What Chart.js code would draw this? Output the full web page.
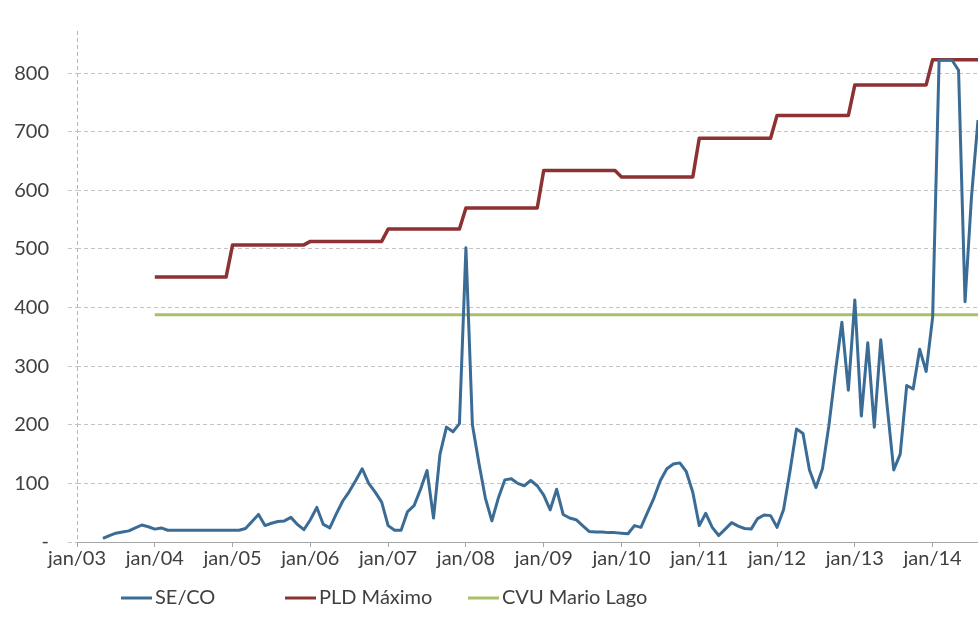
<!DOCTYPE html>
<html>
<head>
<meta charset="utf-8">
<script src="https://cdn.jsdelivr.net/npm/chart.js@4/dist/chart.umd.min.js"></script>
<style>
  html, body { margin: 0; padding: 0; background: #ffffff; overflow: hidden; }
  #wrap { width: 978px; height: 637px; }
</style>
</head>
<body>
<div id="wrap"><canvas id="chart" width="978" height="637"></canvas></div>
<script>
// Year tick labels, one per January (month index 0 = jan/03)
const yearTicks = ['jan/03', 'jan/04', 'jan/05', 'jan/06', 'jan/07', 'jan/08',
                   'jan/09', 'jan/10', 'jan/11', 'jan/12', 'jan/13', 'jan/14'];

// PLD SE/CO monthly average (R$/MWh), month index 0 = jan/03
const seCo = [
  null, null, null, null, 6, 11, 15, 17, 19, 24, 29, 26,          // 2003
  22, 24, 20, 20, 20, 20, 20, 20, 20, 20, 20, 20,                 // 2004
  20, 20, 23, 35, 47, 28, 32, 35, 36, 42, 30, 21,                 // 2005
  38, 59, 30, 24, 48, 70, 86, 105, 125, 100, 85, 68,              // 2006
  28, 20, 20, 52, 62, 90, 122, 41, 150, 196, 188, 202,            // 2007
  502, 200, 135, 75, 36, 75, 106, 108, 100, 96, 105, 96,          // 2008
  80, 55, 90, 47, 41, 38, 28, 18, 17, 17, 16, 16,                 // 2009
  15, 14, 28, 25, 50, 75, 105, 125, 133, 135, 120, 85,            // 2010
  28, 49, 25, 11, 22, 33, 27, 23, 22, 40, 46, 45,                 // 2011
  25, 55, 121, 193, 185, 123, 93, 125, 199, 290, 375, 259,        // 2012
  413, 215, 340, 196, 345, 230, 123, 150, 267, 261, 329, 291,     // 2013
  383, 822, 822, 822, 805, 410, 590, 720                          // 2014
];

// PLD ceiling per year (R$/MWh), 2004 to 2014
const pldYears = [2004, 2005, 2006, 2007, 2008, 2009, 2010, 2011, 2012, 2013, 2014];
const pldMax   = [452, 507, 513, 534, 570, 634, 623, 689, 728, 780, 823];

// Variable unit cost of the Mario Lago plant (R$/MWh)
const cvuMarioLago = 388;
const cvuStartMonth = 12;

const lastMonth = seCo.length - 1;

// Build {x, y} points on the month axis
const seCoPoints = seCo.map((v, i) => ({ x: i, y: v }));
const pldPoints = [];
pldYears.forEach((yr, k) => {
  const start = (yr - 2003) * 12;
  for (let m = start; m < start + 12 && m <= lastMonth; m++) {
    pldPoints.push({ x: m, y: pldMax[k] });
  }
});
const cvuPoints = [];
for (let m = cvuStartMonth; m <= lastMonth; m++) cvuPoints.push({ x: m, y: cvuMarioLago });

const FONT = 'Lato';
const TEXT = '#404040';
const COLORS = { seCo: '#3b6c96', pld: '#8c3232', cvu: '#a8c168' };

// Legend drawn beneath the axis labels
const legendPlugin = {
  id: 'bottomLegend',
  afterDraw(chart, args, opts) {
    const ctx = chart.ctx;
    ctx.save();
    ctx.font = `20px ${FONT}`;
    ctx.textBaseline = 'middle';
    ctx.fillStyle = TEXT;
    opts.items.forEach(it => {
      ctx.strokeStyle = it.color;
      ctx.lineWidth = 3;
      ctx.beginPath();
      ctx.moveTo(it.x, opts.y);
      ctx.lineTo(it.x + 31, opts.y);
      ctx.stroke();
      ctx.fillText(it.text, it.x + 34, opts.y);
    });
    ctx.restore();
  }
};

new Chart(document.getElementById('chart'), {
  type: 'line',
  data: {
    datasets: [
      { label: 'SE/CO', data: seCoPoints, borderColor: COLORS.seCo, borderWidth: 3, order: 1 },
      { label: 'PLD Máximo', data: pldPoints, borderColor: COLORS.pld, borderWidth: 3.5, order: 2 },
      { label: 'CVU Mario Lago', data: cvuPoints, borderColor: COLORS.cvu, borderWidth: 3, order: 3 }
    ]
  },
  options: {
    responsive: false,
    animation: false,
    devicePixelRatio: 1,
    spanGaps: false,
    elements: {
      point: { radius: 0, hoverRadius: 0 },
      line: { tension: 0, borderJoinStyle: 'round', borderCapStyle: 'butt' }
    },
    layout: { padding: { top: 7, right: 0, bottom: 0, left: 0 } },
    plugins: {
      legend: { display: false },
      tooltip: { enabled: false },
      bottomLegend: {
        y: 598,
        items: [
          { text: 'SE/CO', x: 121, color: COLORS.seCo },
          { text: 'PLD Máximo', x: 285, color: COLORS.pld },
          { text: 'CVU Mario Lago', x: 468, color: COLORS.cvu }
        ]
      }
    },
    scales: {
      x: {
        type: 'linear',
        position: 'bottom',
        min: 0,
        max: lastMonth,
        afterFit(scale) { scale.height = 95; },
        ticks: {
          stepSize: 12,
          includeBounds: false,
          autoSkip: false,
          maxRotation: 0,
          padding: 0,
          color: TEXT,
          font: { family: FONT, size: 20 },
          callback: v => yearTicks[v / 12] ?? ''
        },
        grid: {
          drawOnChartArea: true,
          drawTicks: true,
          tickLength: 5,
          color: c => (c.tick && c.tick.value === 0) ? '#b5b5b5' : 'rgba(0,0,0,0)',
          tickColor: '#a6a6a6',
          tickBorderDash: []
        },
        border: { display: true, color: '#a6a6a6', width: 1, dash: [4, 3] }
      },
      y: {
        min: 0,
        max: 872,
        afterFit(scale) { scale.width = 77; },
        ticks: {
          stepSize: 100,
          includeBounds: false,
          padding: 19,
          color: TEXT,
          font: { family: FONT, size: 20 },
          callback: v => (v === 0 ? '-' : v)
        },
        grid: {
          color: '#c4c4c4',
          tickLength: 9,
          tickColor: '#c4c4c4',
          tickBorderDash: [4, 3]
        },
        border: { display: false, dash: [4, 3] }
      }
    }
  },
  plugins: [legendPlugin]
});
</script>
</body>
</html>
